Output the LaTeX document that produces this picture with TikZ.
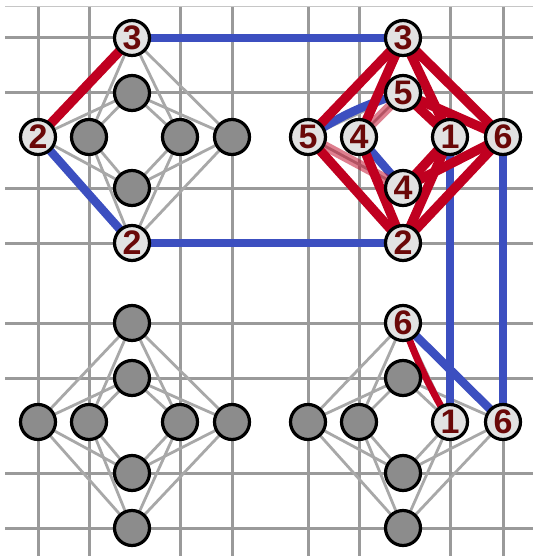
\documentclass[tikz,border=0pt]{standalone}
\usepackage{fontspec}
\setmainfont{Liberation Sans}
\definecolor{gridgray}{HTML}{9A9A9A}
\definecolor{edgegray}{HTML}{A8A8A8}
\definecolor{nodegray}{HTML}{8C8C8C}
\definecolor{nodelight}{HTML}{E2E2E2}
\definecolor{labelred}{HTML}{6A0808}
\definecolor{myred}{HTML}{C00020}
\definecolor{myblue}{HTML}{3C4FC0}
\pgfdeclarelayer{gridlayer}
\pgfdeclarelayer{graylayer}
\pgfdeclarelayer{bluelayer}
\pgfdeclarelayer{redlayer}
\pgfsetlayers{gridlayer,graylayer,bluelayer,redlayer,main}
\begin{document}
\begin{tikzpicture}[x=1pt,y=-1pt,
  gridline/.style={draw=gridgray, line width=3pt},
  gedge/.style={draw=edgegray, line width=2.8pt},
  redge/.style={draw=myred, line width=9.5pt},
  pedge/.style={draw=myred, line width=9.5pt, draw opacity=0.5},
  bedge/.style={draw=myblue, line width=8.5pt},
  vtx/.style={circle, draw=black, line width=3.2pt, fill=nodegray, minimum size=35pt, inner sep=0pt},
  lvtx/.style={vtx, fill=nodelight, text=labelred, font=\fontsize{34}{34}\selectfont\bfseries}]
\useasboundingbox (0,0) rectangle (533,556);
% grid
\begin{pgfonlayer}{gridlayer}
\fill[white] (0,0) rectangle (533,556);
\draw[gray!45, line width=0.8pt] (5,6) -- (533,6);
\foreach \y in {38,93,188,243,323,378,473,528} \draw[gridline] (5,\y) -- (533,\y);
\foreach \x in {38,89,180,232,308,359,450,503} \draw[gridline] (\x,7) -- (\x,556);
\end{pgfonlayer}
% group A (top left)
\node[lvtx] (AT) at (132,38) {3};
\node[vtx]  (At) at (132,93) {};
\node[vtx]  (Ab) at (132,188) {};
\node[lvtx] (AB) at (132,243) {2};
\node[lvtx] (AL) at (38,137) {2};
\node[vtx]  (Al) at (89,137) {};
\node[vtx]  (Ar) at (180,137) {};
\node[vtx]  (AR) at (232,137) {};
% group B (top right)
\node[lvtx] (BT) at (403,38) {3};
\node[lvtx] (Bt) at (403,93) {5};
\node[lvtx] (Bb) at (403,188) {4};
\node[lvtx] (BB) at (403,243) {2};
\node[lvtx] (BL) at (308,137) {5};
\node[lvtx] (Bl) at (359,137) {4};
\node[lvtx] (Br) at (450,137) {1};
\node[lvtx] (BR) at (503,137) {6};
% group C (bottom left)
\node[vtx] (CT) at (132,323) {};
\node[vtx] (Ct) at (132,378) {};
\node[vtx] (Cb) at (132,473) {};
\node[vtx] (CB) at (132,528) {};
\node[vtx] (CL) at (38,422) {};
\node[vtx] (Cl) at (89,422) {};
\node[vtx] (Cr) at (180,422) {};
\node[vtx] (CR) at (232,422) {};
% group D (bottom right)
\node[lvtx] (DT) at (403,323) {6};
\node[vtx]  (Dt) at (403,378) {};
\node[vtx]  (Db) at (403,473) {};
\node[vtx]  (DB) at (403,528) {};
\node[vtx]  (DL) at (308,422) {};
\node[vtx]  (Dl) at (359,422) {};
\node[lvtx] (Dr) at (450,422) {1};
\node[lvtx] (DR) at (503,422) {6};
% gray edges (K_{4,4} in every group)
\begin{pgfonlayer}{graylayer}
\foreach \g in {A,B,C,D}
  \foreach \v in {T,t,b,B}
    \foreach \h in {L,l,r,R}
      \draw[gedge] (\g\v.center) -- (\g\h.center);
\end{pgfonlayer}
% blue edges
\begin{pgfonlayer}{bluelayer}
\draw[bedge] (AT.center) -- (BT.center);
\draw[bedge] (AB.center) -- (BB.center);
\draw[bedge] (AL.center) -- (AB.center);
\draw[bedge] (BR.center) -- (DR.center);
\draw[bedge] (Br.center) -- (Dr.center);
\draw[bedge] (DT.center) -- (DR.center);
\draw[bedge] (BL.center) to[bend left=8] (Bt.center);
\draw[bedge] (Bl.center) -- (Bb.center);
\end{pgfonlayer}
% red edges
\begin{pgfonlayer}{redlayer}
\draw[redge] (AT.center) -- (AL.center);
\foreach \a/\b in {BT/BL,BT/Bl,BT/Br,BT/BR,Bt/Br,Bt/BR,Bb/Br,Bb/BR,BB/BL,BB/Bl,BB/Br,BB/BR}
  \draw[redge] (\a.center) -- (\b.center);
\draw[pedge] (BL.center) -- (Bb.center);
\draw[pedge] (Bl.center) -- (Bt.center);
\draw[redge, line width=7pt] (DT.center) to[bend right=5] (Dr.center);
\end{pgfonlayer}
\end{tikzpicture}
\end{document}
